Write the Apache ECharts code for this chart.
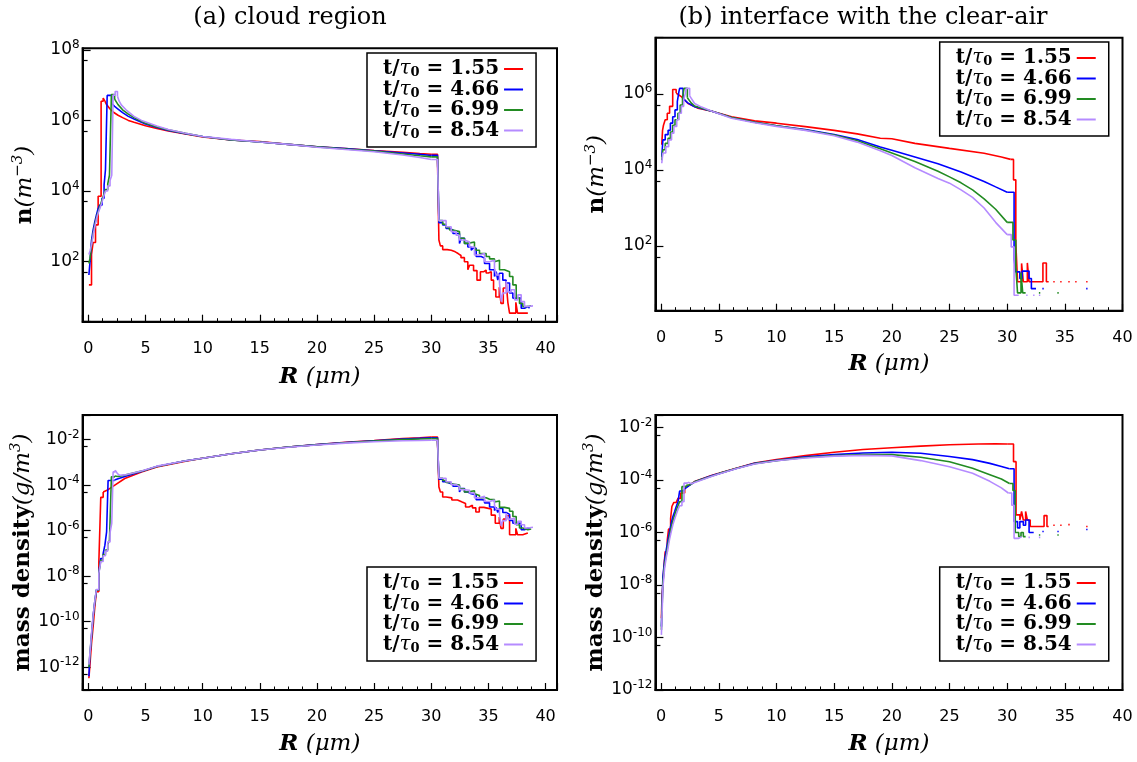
<!DOCTYPE html>
<html><head><meta charset="utf-8">
<script src="https://cdn.jsdelivr.net/npm/echarts@6/dist/echarts.min.js"></script>
<style>html,body{margin:0;padding:0;background:#fff}#c{width:1137px;height:762px}</style>
</head><body><div id="c"></div>
<script>
// ---------------- DATA ----------------
const SERIES_NAMES = ['t/τ0 = 1.55', 't/τ0 = 4.66', 't/τ0 = 6.99', 't/τ0 = 8.54'];
const X_TICK_LABELS = [0, 5, 10, 15, 20, 25, 30, 35, 40];
const PANEL_TITLES = ['(a) cloud region', '(b) interface with the clear-air'];

// (a) cloud region, number concentration n (m^-3), [R (um), n]
const cloudN_155 = [[0.05,22],[0.28,160],[0.42,350],[0.63,1100],[0.86,7100],[1.12,3.5e6],[1.3,4.3e6],[1.45,3.5e6],[1.6,2.8e6],[1.9,2.1e6],[2.2,1.7e6],[2.6,1.4e6],[3.0,1.2e6],[3.5,1.0e6],[4.0,8.9e5],[5.0,7.1e5],[6.0,5.9e5],[7.0,5.0e5],[8.5,4.1e5],[10,3.4e5],[12.5,2.8e5],[15,2.5e5],[17.5,2.1e5],[20,1.8e5],[22.5,1.6e5],[25,1.4e5],[27.5,1.26e5],[29,1.15e5],[30,1.1e5],[30.55,6.3e4],[30.67,410],[30.8,280],[31.0,220],[31.4,210],[31.75,190],[32.1,170],[32.35,150],[32.6,130],[32.9,100],[33.2,59],[33.35,79],[33.7,56],[34.0,30],[34.3,52],[34.6,58],[34.8,48],[35.0,52],[35.25,30],[35.45,16],[35.65,10],[35.95,19],[36.1,6.6],[36.3,18],[36.55,27],[36.7,7.1],[36.85,3.5],[37.4,7.1],[37.55,3.5],[38.0,3.5],[38.45,3.5]];
const cloudN_466 = [[0.05,42],[0.15,100],[0.28,400],[0.42,790],[0.57,1350],[0.71,2100],[0.86,3200],[1.0,4000],[1.2,6300],[1.38,1.5e4],[1.5,4.0e4],[1.65,5.1e6],[2.05,3.0e6],[2.3,2.5e6],[2.6,2.1e6],[3.0,1.66e6],[3.5,1.3e6],[4.0,1.1e6],[5.0,7.9e5],[6.0,6.3e5],[7.0,5.2e5],[8.5,4.2e5],[10,3.5e5],[12.5,2.8e5],[15,2.45e5],[17.5,2.1e5],[20,1.8e5],[22.5,1.6e5],[25,1.38e5],[27.5,1.2e5],[29,1.1e5],[30,1.02e5],[30.55,8.9e4],[30.67,1260],[31.0,1100],[31.3,870],[31.6,790],[31.9,630],[32.47,330],[32.62,460],[32.91,330],[33.2,260],[33.5,210],[33.64,240],[33.93,140],[34.37,126],[34.66,89],[35.1,59],[35.53,38],[35.68,52],[35.82,30],[35.97,47],[36.26,30],[36.55,25],[36.85,13],[37.14,9.3],[37.58,9.3],[37.87,4.8],[38.16,5.4],[38.45,4.8],[38.6,4.8]];
const cloudN_699 = [[0.05,89],[0.15,126],[0.3,350],[0.45,710],[0.6,1260],[0.75,2000],[0.9,2800],[1.05,4000],[1.2,5600],[1.35,7900],[1.5,1.1e4],[1.7,1.6e4],[1.85,2.8e4],[2.02,5.4e6],[2.3,4.0e6],[2.6,2.8e6],[3.0,2.0e6],[3.5,1.5e6],[4.0,1.2e6],[5.0,8.3e5],[6,6.5e5],[7,5.4e5],[8.5,4.3e5],[10,3.5e5],[12.5,2.8e5],[15,2.45e5],[17.5,2.1e5],[20,1.78e5],[22.5,1.55e5],[25,1.35e5],[27.5,1.12e5],[29,1.0e5],[30,9.3e4],[30.55,8.5e4],[30.67,1450],[31.0,1150],[31.3,930],[31.6,790],[31.89,710],[32.47,460],[32.9,330],[33.2,360],[33.78,260],[33.93,210],[34.22,170],[34.8,140],[35.1,120],[35.53,100],[35.68,110],[35.97,59],[36.4,52],[36.85,38],[37.14,22],[37.43,9.3],[37.72,6.6],[38.01,5.4],[38.45,5.6],[38.74,5.6]];
const cloudN_854 = [[0.05,160],[0.15,200],[0.3,320],[0.45,630],[0.6,1100],[0.75,1800],[0.9,2600],[1.05,3500],[1.2,5000],[1.35,7100],[1.5,1.0e4],[1.7,1.4e4],[1.9,2.0e4],[2.05,2.8e4],[2.17,5.2e6],[2.35,6.6e6],[2.55,4.8e6],[2.7,3.5e6],[2.9,2.7e6],[3.3,2.0e6],[4.0,1.3e6],[4.65,1.0e6],[6,6.9e5],[7,5.5e5],[8.4,4.4e5],[10,3.5e5],[12.5,2.9e5],[15,2.45e5],[17.5,2.1e5],[20,1.74e5],[22.5,1.5e5],[25,1.3e5],[27.5,1.05e5],[29,8.9e4],[30,7.8e4],[30.55,7.1e4],[30.67,1450],[31.3,980],[31.74,710],[32.18,560],[32.47,410],[32.91,360],[33.35,260],[33.78,155],[34.22,170],[34.66,100],[35.1,110],[35.53,65],[35.68,42],[35.97,25],[36.12,7.4],[36.26,13],[36.55,28],[36.7,14],[36.99,16],[37.29,8.3],[37.58,11.5],[37.87,7.4],[38.16,5.4],[38.45,5.6],[38.9,5.6]];

// (b) interface with the clear-air, number concentration n (m^-3)
const interfaceN_155 = [[0.05,4.6e4],[0.12,1.1e5],[0.2,1.5e5],[0.35,2.1e5],[0.53,3.1e5],[0.73,4.7e5],[1.0,1.3e6],[1.3,1.05e6],[1.5,9.5e5],[1.75,8.5e5],[2.0,7.1e5],[2.33,5.6e5],[2.8,4.8e5],[3.2,4.2e5],[4.4,3.5e5],[6.1,2.5e5],[8.1,1.95e5],[10,1.7e5],[12.5,1.38e5],[15,1.1e5],[17,8.9e4],[19,6.8e4],[20,6.6e4],[22,5.0e4],[25,3.7e4],[28,2.75e4],[29.5,2.2e4],[30.3,1.9e4],[30.55,5.5e3],[30.75,120],[30.9,11.5],[31.25,35],[31.4,11.5],[31.75,36],[31.9,11.5],[33.1,36],[33.4,11.5],[33.6,11.5],[33.6,null],[34.0,11.5],[34.12,11.5],[34.12,null],[34.6,11.5],[34.72,11.5],[34.72,null],[35.3,11.5],[35.42,11.5],[35.42,null],[35.9,11.5],[36.02,11.5],[36.02,null],[36.85,11.5],[36.97,11.5]];
const interfaceN_466 = [[0.05,2.2e4],[0.15,6.2e4],[0.35,8.5e4],[0.6,1.1e5],[0.8,1.7e5],[1.0,2.5e5],[1.2,3.8e5],[1.4,6.3e5],[1.54,1.15e6],[1.6,1.4e6],[1.9,7.6e5],[2.3,5.8e5],[2.9,4.6e5],[4.4,3.5e5],[6.1,2.4e5],[8.1,1.8e5],[10,1.45e5],[12.5,1.15e5],[15,8.5e4],[17,6.3e4],[19,4.0e4],[20,3.3e4],[22,2.2e4],[24,1.45e4],[26,8.9e3],[28,5.0e3],[29,3.6e3],[30,2.6e3],[30.6,45],[30.75,21],[31.1,14],[31.3,22],[31.9,14],[32.1,7.6],[32.5,7.6],[32.5,null],[33.05,7.6],[33.17,7.6],[33.17,null],[36.85,7.6],[36.97,7.6]];
const interfaceN_699 = [[0.05,1.8e4],[0.15,3.4e4],[0.35,5.0e4],[0.6,6.8e4],[0.8,1.0e5],[1.0,1.5e5],[1.2,2.1e5],[1.45,3.1e5],[1.65,5.1e5],[1.85,7.8e5],[1.98,1.4e6],[2.27,7.9e5],[2.6,5.8e5],[2.9,4.8e5],[4.4,3.5e5],[6.1,2.4e5],[8.1,1.8e5],[10,1.45e5],[12.5,1.12e5],[15,8.3e4],[17,5.9e4],[19,3.6e4],[20,2.8e4],[22,1.66e4],[24,9.3e3],[25,6.6e3],[26,4.6e3],[27,3.0e3],[28,1.74e3],[29,930],[30,420],[30.5,145],[30.75,28],[30.9,5.9],[31.2,20],[31.35,5.9],[31.6,5.9],[31.6,null],[32.75,5.9],[32.87,5.9],[32.87,null],[34.35,5.9],[34.47,5.9]];
const interfaceN_854 = [[0.05,1.5e4],[0.15,2.8e4],[0.4,4.1e4],[0.65,6.2e4],[0.9,9.3e4],[1.1,1.4e5],[1.35,2.1e5],[1.55,3.1e5],[1.75,4.7e5],[1.95,6.9e5],[2.1,1.05e6],[2.18,1.4e6],[2.47,8.9e5],[2.9,5.6e5],[3.5,4.5e5],[4.4,3.5e5],[6.1,2.3e5],[8.1,1.74e5],[10,1.4e5],[12.5,1.1e5],[15,7.9e4],[17,5.4e4],[19,3.2e4],[20,2.4e4],[22,1.15e4],[24,6.0e3],[25,4.5e3],[26,3.0e3],[27,1.9e3],[28,1.0e3],[29,420],[30,200],[30.35,95],[30.6,5.1],[31.0,5.1],[31.0,null],[31.65,5.1],[31.77,5.1],[31.77,null],[32.25,5.1],[32.37,5.1],[32.37,null],[32.75,5.1],[32.87,5.1]];

// (a) cloud region, mass density (g/m^3)
const cloudM_155 = [[0.05,3.3e-13],[0.13,1.07e-12],[0.28,1.1e-11],[0.42,6.0e-11],[0.57,4.6e-10],[0.71,2.1e-9],[0.92,3.9e-8],[1.09,2.9e-5],[1.3,5.0e-5],[1.73,6.3e-5],[2.32,1.0e-4],[3.19,1.95e-4],[4.65,3.8e-4],[6,6.3e-4],[8.4,1.1e-3],[10,1.5e-3],[12.5,2.4e-3],[15,3.5e-3],[17.5,4.7e-3],[20,6.0e-3],[22.5,7.6e-3],[25,9.1e-3],[27.5,1.1e-2],[29,1.2e-2],[30,1.3e-2],[30.55,7.1e-3],[30.67,8.3e-5],[30.8,5.0e-5],[31.0,3.0e-5],[31.3,2.75e-5],[31.8,2.2e-5],[32.3,1.8e-5],[32.7,1.55e-5],[33.0,1.1e-5],[33.3,1.3e-5],[33.6,1.0e-5],[33.9,6.6e-6],[34.2,1.05e-5],[34.6,9.5e-6],[35.0,8.9e-6],[35.25,4.8e-6],[35.6,2.1e-6],[35.95,4.0e-6],[36.1,1.26e-6],[36.3,3.2e-6],[36.55,4.5e-6],[36.85,6.6e-7],[37.4,1.26e-6],[37.55,6.6e-7],[38.0,7.9e-7],[38.45,7.9e-7]];
const cloudM_466 = [[0.05,4.0e-13],[0.13,2.9e-12],[0.28,2.2e-11],[0.42,1.66e-10],[0.57,7.6e-10],[0.71,2.5e-9],[0.92,1.55e-8],[1.09,6.0e-8],[1.3,1.0e-7],[1.45,2.3e-7],[1.6,8.9e-7],[1.73,1.6e-4],[2.3,1.66e-4],[2.6,1.9e-4],[3.2,2.4e-4],[4.65,4.0e-4],[6,6.6e-4],[8.4,1.15e-3],[10,1.5e-3],[12.5,2.4e-3],[15,3.5e-3],[17.5,4.7e-3],[20,6.0e-3],[22.5,7.4e-3],[25,8.9e-3],[27.5,1.05e-2],[29,1.15e-2],[30,1.21e-2],[30.55,7.9e-3],[30.67,1.8e-4],[31.0,1.4e-4],[31.3,1.2e-4],[31.6,1.1e-4],[31.9,8.9e-5],[32.47,5.0e-5],[32.62,7.1e-5],[32.91,5.0e-5],[33.2,4.2e-5],[33.5,3.5e-5],[33.64,3.8e-5],[33.93,2.3e-5],[34.37,2.2e-5],[34.66,1.66e-5],[35.1,1.1e-5],[35.53,7.6e-6],[35.68,1.05e-5],[35.82,6.3e-6],[35.97,9.5e-6],[36.26,6.3e-6],[36.55,5.2e-6],[36.85,2.8e-6],[37.14,2.1e-6],[37.58,2.1e-6],[37.87,1.1e-6],[38.16,1.26e-6],[38.45,1.2e-6],[38.6,1.2e-6]];
const cloudM_699 = [[0.05,1.0e-12],[0.13,3.2e-12],[0.28,2.5e-11],[0.42,1.6e-10],[0.57,7.9e-10],[0.71,2.5e-9],[0.92,1.4e-8],[1.09,5.0e-8],[1.3,8.9e-8],[1.5,1.4e-7],[1.7,2.5e-7],[1.85,3.8e-7],[2.02,2.3e-4],[2.3,2.5e-4],[2.6,2.4e-4],[3.2,2.75e-4],[4.65,4.1e-4],[6,6.6e-4],[8.4,1.15e-3],[10,1.5e-3],[12.5,2.4e-3],[15,3.5e-3],[17.5,4.7e-3],[20,5.9e-3],[22.5,7.2e-3],[25,8.7e-3],[27.5,1.0e-2],[29,1.06e-2],[30,1.1e-2],[30.55,8.3e-3],[30.67,2.0e-4],[31.0,1.6e-4],[31.3,1.3e-4],[31.6,1.1e-4],[31.89,1.0e-4],[32.47,6.8e-5],[32.9,5.0e-5],[33.2,5.6e-5],[33.78,4.2e-5],[33.93,3.5e-5],[34.22,2.8e-5],[34.8,2.4e-5],[35.1,2.3e-5],[35.53,1.8e-5],[35.68,2.0e-5],[35.97,1.05e-5],[36.4,9.5e-6],[36.85,7.1e-6],[37.14,4.2e-6],[37.43,1.8e-6],[37.72,1.3e-6],[38.01,1.1e-6],[38.45,1.17e-6],[38.74,1.17e-6]];
const cloudM_854 = [[0.05,1.3e-12],[0.13,3.5e-12],[0.28,3.0e-11],[0.42,1.8e-10],[0.57,8.3e-10],[0.71,2.6e-9],[0.92,1.3e-8],[1.09,4.4e-8],[1.3,7.9e-8],[1.5,1.26e-7],[1.7,3.2e-7],[1.9,8.0e-7],[2.05,2.1e-6],[2.17,3.8e-4],[2.35,4.5e-4],[2.55,3.2e-4],[2.75,2.7e-4],[3.2,2.8e-4],[4.65,4.2e-4],[6,6.8e-4],[8.4,1.15e-3],[10,1.5e-3],[12.5,2.4e-3],[15,3.5e-3],[17.5,4.6e-3],[20,5.8e-3],[22.5,7.0e-3],[25,8.0e-3],[27.5,8.9e-3],[29,9.1e-3],[30,9.3e-3],[30.55,7.9e-3],[30.67,2.0e-4],[31.3,1.4e-4],[31.74,1.05e-4],[32.18,8.7e-5],[32.47,6.3e-5],[32.91,5.9e-5],[33.35,4.5e-5],[33.78,2.75e-5],[34.22,3.2e-5],[34.66,1.9e-5],[35.1,2.2e-5],[35.53,1.3e-5],[35.68,8.7e-6],[35.97,5.2e-6],[36.12,1.6e-6],[36.26,2.75e-6],[36.55,6.0e-6],[36.7,3.2e-6],[36.99,3.5e-6],[37.29,1.9e-6],[37.58,2.6e-6],[37.87,1.8e-6],[38.16,1.3e-6],[38.45,1.4e-6],[38.9,1.4e-6]];

// (b) interface with the clear-air, mass density (g/m^3)
const interfaceM_155 = [[0.02,5.4e-10],[0.07,3.6e-9],[0.15,1.0e-8],[0.24,5.0e-8],[0.35,1.86e-7],[0.53,5.2e-7],[0.64,1.35e-6],[0.82,3.5e-6],[0.93,9.8e-6],[1.1,1.4e-5],[1.31,1.66e-5],[1.46,2.0e-5],[1.69,3.2e-5],[2.04,4.9e-5],[2.9,8.7e-5],[4.35,1.5e-4],[5,1.8e-4],[6.5,2.8e-4],[8.1,4.4e-4],[10,6.0e-4],[12.5,8.5e-4],[15,1.15e-3],[17.5,1.45e-3],[20,1.7e-3],[22.5,1.95e-3],[25,2.2e-3],[27.5,2.35e-3],[29,2.4e-3],[30,2.35e-3],[30.55,5.0e-4],[30.77,4.7e-6],[31.1,3.0e-6],[31.25,6.3e-6],[31.4,3.0e-6],[31.6,6.3e-6],[31.75,3.0e-6],[32.0,1.7e-6],[33.2,4.4e-6],[33.45,1.7e-6],[33.6,1.7e-6],[33.6,null],[34.0,1.9e-6],[34.12,1.9e-6],[34.12,null],[34.6,1.9e-6],[34.72,1.9e-6],[34.72,null],[35.3,2.0e-6],[35.42,2.0e-6],[35.42,null],[36.85,1.7e-6],[36.97,1.7e-6]];
const interfaceM_466 = [[0.02,2.6e-10],[0.15,2.1e-8],[0.3,9.1e-8],[0.44,2.2e-7],[0.59,5.2e-7],[0.73,1.1e-6],[0.88,2.3e-6],[1.02,4.1e-6],[1.17,6.3e-6],[1.31,9.8e-6],[1.46,1.5e-5],[1.6,3.8e-5],[1.98,4.4e-5],[2.3,5.6e-5],[2.9,8.5e-5],[4.35,1.45e-4],[5,1.75e-4],[6.5,2.75e-4],[8.1,4.3e-4],[10,5.6e-4],[12.5,7.6e-4],[15,9.3e-4],[17.5,1.07e-3],[20,1.15e-3],[22.5,1.05e-3],[25,7.9e-4],[27,6.0e-4],[28.5,4.3e-4],[29.5,3.3e-4],[30.2,2.7e-4],[30.6,2.6e-6],[30.9,1.5e-6],[31.1,2.6e-6],[31.4,1.9e-6],[31.6,3.0e-6],[31.9,1.0e-6],[32.3,1.0e-6],[32.3,null],[33.05,1.1e-6],[33.17,1.1e-6],[33.17,null],[34.35,1.1e-6],[34.47,1.1e-6],[34.47,null],[36.85,1.3e-6],[36.97,1.3e-6]];
const interfaceM_699 = [[0.02,1.95e-10],[0.15,1.26e-8],[0.3,6.3e-8],[0.44,1.4e-7],[0.59,3.5e-7],[0.73,7.6e-7],[0.88,1.6e-6],[1.02,2.8e-6],[1.17,4.7e-6],[1.31,7.1e-6],[1.46,1.05e-5],[1.6,1.5e-5],[1.8,5.6e-5],[2.18,6.3e-5],[2.5,6.6e-5],[2.9,8.5e-5],[4.35,1.4e-4],[5,1.75e-4],[6.5,2.75e-4],[8.1,4.2e-4],[10,5.5e-4],[12.5,7.2e-4],[15,8.5e-4],[17.5,9.3e-4],[20,9.3e-4],[22.5,7.4e-4],[25,5.0e-4],[27,2.8e-4],[28.5,1.6e-4],[29.5,1.1e-4],[30.2,7.4e-5],[30.5,4.0e-5],[30.7,1.0e-6],[31.0,7.0e-7],[31.2,1.0e-6],[31.4,7.0e-7],[31.6,7.0e-7],[31.6,null],[32.75,8.0e-7],[32.87,8.0e-7],[32.87,null],[34.35,8.0e-7],[34.47,8.0e-7]];
const interfaceM_854 = [[0.02,1.26e-10],[0.15,7.9e-9],[0.3,4.5e-8],[0.44,1.1e-7],[0.59,2.5e-7],[0.73,5.6e-7],[0.88,1.1e-6],[1.02,2.0e-6],[1.17,3.3e-6],[1.31,5.0e-6],[1.46,7.6e-6],[1.6,1.05e-5],[1.8,1.5e-5],[1.98,7.6e-5],[2.18,7.9e-5],[2.33,8.3e-5],[2.61,7.2e-5],[2.9,8.0e-5],[4.35,1.35e-4],[5,1.7e-4],[6.5,2.7e-4],[8.1,4.1e-4],[10,5.4e-4],[12.5,6.9e-4],[15,8.1e-4],[17.5,8.7e-4],[20,8.3e-4],[22.5,5.5e-4],[25,3.2e-4],[27,1.8e-4],[28.5,8.9e-5],[29.5,5.0e-5],[30.1,3.2e-5],[30.4,1.1e-5],[30.6,6.0e-7],[31.0,7.0e-7],[31.25,7.0e-7],[31.25,null],[31.85,6.5e-7],[31.97,6.5e-7],[31.97,null],[32.75,6.5e-7],[32.87,6.5e-7]];

// ---------------- LAYOUT / STYLE ----------------
const COLORS = ['#ff0000', '#0000ff', '#228b22', '#b58bff'];
// split radii per curve: [end of stepped rise, start of stepped tail]; between them the curve is drawn as a plain line
const PANELS = [
  {grid:{left:82.6, top:48.3, width:474.4, height:273.4}, xMax:41, yMin:2, yMax:1.1e8, name:'n', legend:{left:367, top:53}, nameGap:41,
   series:[cloudN_155, cloudN_466, cloudN_699, cloudN_854], splits:[[1.45,30],[2.05,30],[2.3,30],[2.55,30]]},
  {grid:{left:655.4, top:37.7, width:467.1, height:273}, xMax:40, yMin:2, yMax:3.0e7, name:'n', legend:{left:939.7, top:42}, nameGap:39,
   series:[interfaceN_155, interfaceN_466, interfaceN_699, interfaceN_854], splits:[[1.3,30.3],[1.9,30],[2.27,30],[2.47,30]]},
  {grid:{left:82.6, top:415, width:474.4, height:275}, xMax:41, yMin:1e-13, yMax:0.12, name:'m', legend:{left:367, top:567}, nameGap:40,
   series:[cloudM_155, cloudM_466, cloudM_699, cloudM_854], splits:[[1.3,30],[2.3,30],[2.3,30],[2.35,30]]},
  {grid:{left:655.4, top:415, width:467.1, height:275}, xMax:40, yMin:1e-12, yMax:0.03, name:'m', legend:{left:939.7, top:567}, nameGap:40,
   series:[interfaceM_155, interfaceM_466, interfaceM_699, interfaceM_854], splits:[[2.04,30],[1.98,30.2],[2.18,30.2],[2.33,30.1]]}
];

const SERIF = '"DejaVu Serif", serif';
const SANS = '"DejaVu Sans", sans-serif';
const nameRich = {
  b: {fontFamily:SERIF, fontWeight:'bold', fontSize:23, lineHeight:28, color:'#000'},
  i: {fontFamily:SERIF, fontStyle:'italic', fontSize:23, lineHeight:28, color:'#000'},
  bi: {fontFamily:SERIF, fontStyle:'italic', fontWeight:'bold', fontSize:23, lineHeight:28, color:'#000'},
  sup: {fontFamily:SERIF, fontStyle:'italic', fontSize:15, lineHeight:15, verticalAlign:'top', color:'#000'}
};

function yLabel(v) {
  const e = Math.log10(v);
  const r = Math.round(e);
  if (Math.abs(e - r) > 1e-6 || r % 2 !== 0) return '';
  return '{b|10}{s|' + r + '}';
}

const grids = [], xAxes = [], yAxes = [], series = [], legends = [];
PANELS.forEach((p, k) => {
  grids.push(Object.assign({show:true, borderColor:'#000', borderWidth:2, backgroundColor:'transparent', containLabel:false}, p.grid));
  xAxes.push({
    type:'value', gridIndex:k, min:-0.5, max:p.xMax, splitNumber:8, minInterval:5, maxInterval:5,
    axisLine:{show:true, onZero:false, lineStyle:{color:'#000', width:2}},
    axisTick:{show:true, inside:true, length:7, lineStyle:{color:'#000', width:1.2}},
    minorTick:{show:true, splitNumber:4, length:3.5, lineStyle:{color:'#000', width:1}},
    splitLine:{show:false},
    axisLabel:{margin:19, color:'#000', fontFamily:SANS, fontSize:16,
      formatter: v => (X_TICK_LABELS.indexOf(v) >= 0 ? String(v) : '')},
    name:'{bi|R}{i| (μm)}', nameLocation:'middle', nameGap:p.nameGap,
    nameTextStyle:{rich:nameRich}
  });
  yAxes.push({
    type:'log', gridIndex:k, min:p.yMin, max:p.yMax, logBase:100,
    axisLine:{show:true, onZero:false, lineStyle:{color:'#000', width:2}},
    axisTick:{show:true, inside:true, length:8, lineStyle:{color:'#000', width:1.2}},
    minorTick:{show:true, splitNumber:2, length:5, lineStyle:{color:'#000', width:1.2}},
    splitLine:{show:false}, minorSplitLine:{show:false},
    axisLabel:{margin:3, color:'#000', formatter:yLabel,
      rich:{b:{fontFamily:SANS, fontSize:17, lineHeight:22, color:'#000'},
            s:{fontFamily:SANS, fontSize:12, lineHeight:12, verticalAlign:'top', color:'#000'}}},
    name: p.name === 'n' ? '{b|n}{i|(m}{sup|−3}{i|)}' : '{b|mass density}{i|(g/m}{sup|3}{i|)}',
    nameLocation:'middle', nameRotate:90, nameGap:44,
    nameTextStyle:{rich:nameRich}
  });
  p.series.forEach((d, j) => {
    const [r1, r2] = p.splits[j];
    const parts = [
      {data:d.filter(pt => pt[0] <= r1), step:'end'},
      {data:d.filter(pt => pt[0] >= r1 && pt[0] <= r2), step:false},
      {data:d.filter(pt => pt[0] >= r2), step:'end'}
    ];
    parts.forEach(part => {
      series.push({
        type:'line', name:SERIES_NAMES[j], xAxisIndex:k, yAxisIndex:k, data:part.data, step:part.step,
        showSymbol:false, symbol:'none', connectNulls:false, color:COLORS[j], z:2 + j,
        lineStyle:{color:COLORS[j], width:1.6}, silent:true, animation:false
      });
    });
  });
  legends.push({
    orient:'vertical', left:p.legend.left, top:p.legend.top, align:'right',
    backgroundColor:'#fff', borderColor:'#000', borderWidth:1.5, borderRadius:0,
    padding:[6, 13, 6, 16], itemGap:0, itemWidth:19, itemHeight:2, icon:'rect',
    selectedMode:false, data:SERIES_NAMES,
    formatter: n => '{t|t/}{g|τ}{s|0}{t| = ' + n.split('= ')[1] + '}',
    textStyle:{rich:{
      t:{fontFamily:SERIF, fontWeight:'bold', fontSize:20, lineHeight:21, color:'#000'},
      g:{fontFamily:SERIF, fontStyle:'italic', fontSize:20, lineHeight:21, color:'#000'},
      s:{fontFamily:SERIF, fontWeight:'bold', fontSize:13, lineHeight:13, verticalAlign:'bottom', color:'#000'}
    }}
  });
});

const chart = echarts.init(document.getElementById('c'), null, {renderer:'canvas'});
chart.setOption({
  animation:false,
  backgroundColor:'#fff',
  grid:grids, xAxis:xAxes, yAxis:yAxes, series:series, legend:legends,
  title:[
    {text:PANEL_TITLES[0], left:285, top:1, textAlign:'center', textStyle:{fontFamily:SERIF, fontWeight:'normal', fontSize:24, color:'#000'}},
    {text:PANEL_TITLES[1], left:858, top:1, textAlign:'center', textStyle:{fontFamily:SERIF, fontWeight:'normal', fontSize:24, color:'#000'}}
  ]
});
</script></body></html>
